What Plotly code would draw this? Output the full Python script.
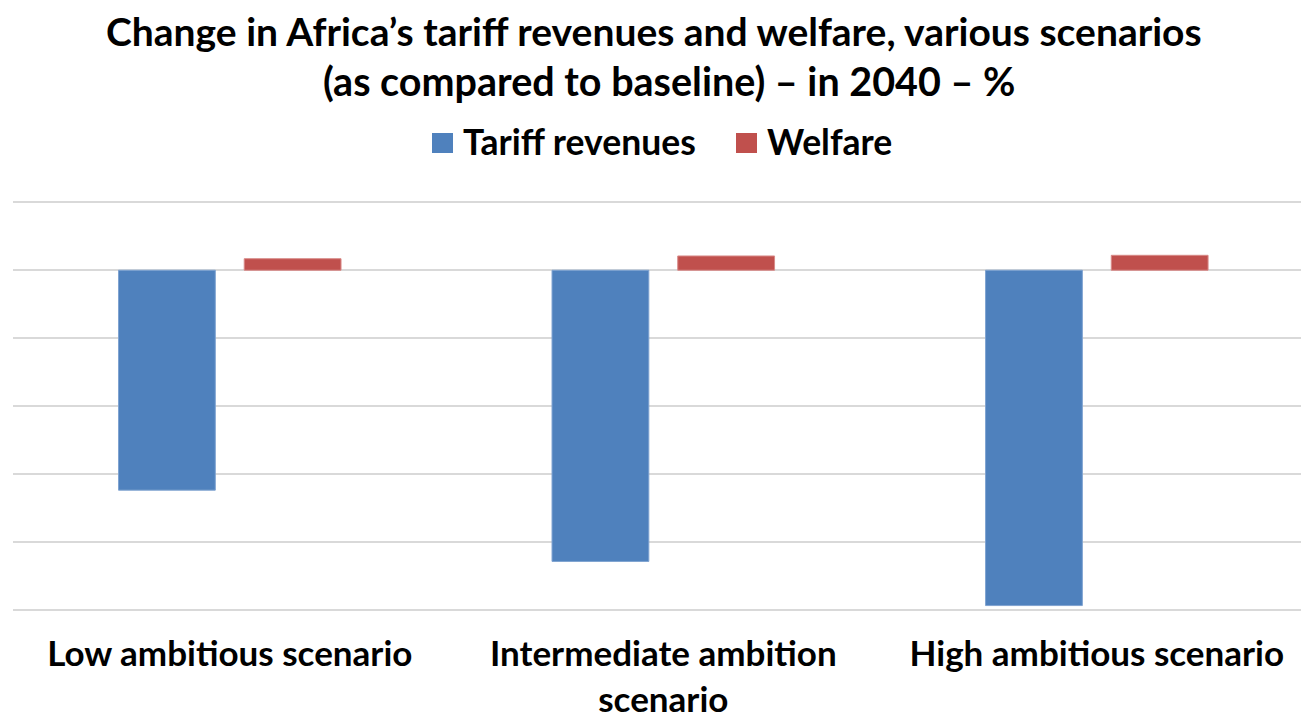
import plotly.graph_objects as go

# Scenario categories and their simulated changes vs. baseline (2040, %)
scenarios = ["Low ambitious scenario", "Intermediate ambition<br>scenario", "High ambitious scenario"]
tariff_revenues = [-3.24, -4.29, -4.94]
welfare = [0.17, 0.21, 0.22]
title_lines = [
    "Change in Africa’s tariff revenues and welfare, various scenarios",
    "(as compared to baseline) – in 2040 – %",
]

BLUE = "#4F81BD"
RED = "#C0504D"
FONT = "Lato"

W, H = 1301, 715
M_L, M_R, M_T, M_B = 13, 0, 201, 104

fig = go.Figure()
fig.add_trace(go.Bar(
    x=scenarios, y=tariff_revenues, name="Tariff revenues",
    marker=dict(color=BLUE, line=dict(color="#7FA3D1", width=1)),
    showlegend=False,
))
fig.add_trace(go.Bar(
    x=scenarios, y=welfare, name="Welfare",
    marker=dict(color=RED, line=dict(color="#D88A88", width=1)),
    showlegend=False,
))


def px_x(p):
    return (p - M_L) / (W - M_L - M_R)


def px_y(p):
    return (H - M_B - p) / (H - M_T - M_B)


shapes = []
annotations = []

# Two-line bold title
for line, xc, yc, size in zip(title_lines, (654, 669), (31, 81), (39, 39.5)):
    annotations.append(dict(
        text=f"<b>{line}</b>", xref="paper", yref="paper",
        x=px_x(xc), y=px_y(yc), xanchor="center", yanchor="middle",
        showarrow=False, font=dict(family=FONT, size=size, color="#000000"),
    ))

# Legend row drawn as coloured squares with bold labels
legend_items = [("Tariff revenues", BLUE, 432), ("Welfare", RED, 736)]
for label, color, left in legend_items:
    shapes.append(dict(
        type="rect", xref="paper", yref="paper",
        x0=px_x(left), x1=px_x(left + 21), y0=px_y(153), y1=px_y(133),
        fillcolor=color, line=dict(width=0),
    ))
    annotations.append(dict(
        text=f"<b>{label}</b>", xref="paper", yref="paper",
        x=px_x(left + 29), y=px_y(141), xanchor="left", yanchor="middle",
        showarrow=False, font=dict(family=FONT, size=35.5, color="#000000"),
    ))

fig.update_layout(
    width=W, height=H,
    margin=dict(l=M_L, r=M_R, t=M_T, b=M_B, pad=0),
    paper_bgcolor="white", plot_bgcolor="white",
    barmode="group", bargap=0.42, bargroupgap=0.23,
    shapes=shapes, annotations=annotations,
    xaxis=dict(
        range=[-0.5, 2.471], showgrid=False, zeroline=False, showline=False,
        ticks="", ticklabelstandoff=19, automargin=False,
        tickvals=scenarios, ticktext=[f"<b>{s}</b>" for s in scenarios],
        tickfont=dict(family=FONT, size=35, color="#000000"),
    ),
    yaxis=dict(
        range=[-5.02, 1.02], dtick=1, showticklabels=False, ticks="",
        showgrid=True, gridcolor="#D9D9D9", gridwidth=2, automargin=False,
        zeroline=True, zerolinecolor="#D9D9D9", zerolinewidth=2, showline=False,
    ),
    font=dict(family=FONT),
)

fig.write_html("out.html")
